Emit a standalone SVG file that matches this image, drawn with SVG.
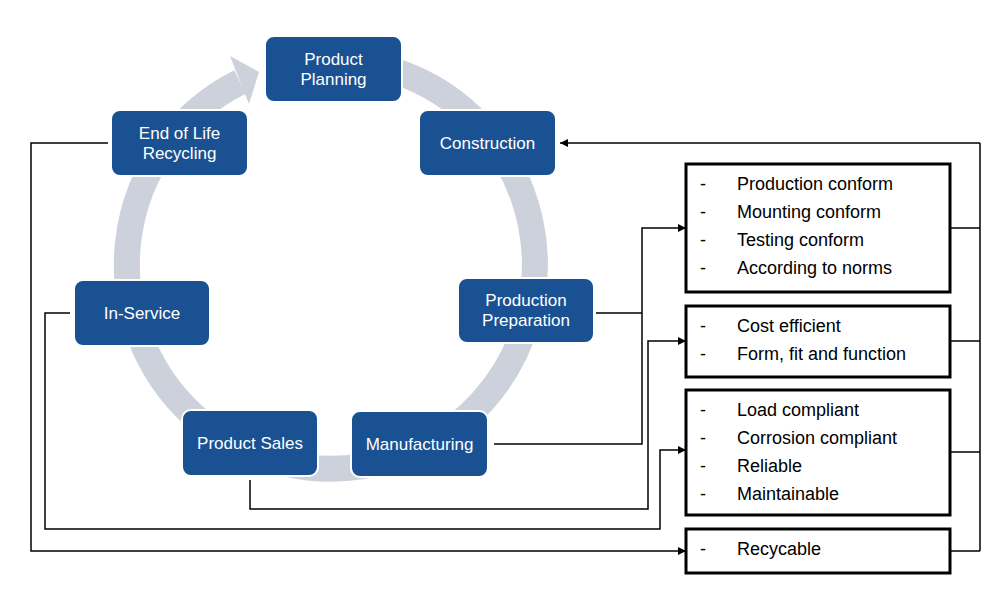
<svg xmlns="http://www.w3.org/2000/svg" width="994" height="599" viewBox="0 0 994 599">
<style>
.n{fill:#1a5192;stroke:#fff;stroke-width:2}
.nt{font-family:"Liberation Sans",Arial,sans-serif;font-size:17px;fill:#fff;text-anchor:middle}
.b{fill:#fff;stroke:#000;stroke-width:3}
.bt{font-family:"Liberation Sans",Arial,sans-serif;font-size:18px;fill:#000}
.c{fill:none;stroke:#000;stroke-width:1.5}
</style>
<defs>
<marker id="a" viewBox="0 0 10 10" refX="10" refY="5" markerWidth="8" markerHeight="8" markerUnits="userSpaceOnUse" orient="auto"><path d="M0,0L10,5L0,10z" fill="#000"/></marker>
</defs>
<rect width="994" height="599" fill="#fff"/>
<g id="ring">
<path d="M300 63 A204 204 0 1 1 240 82" fill="none" stroke="#cdd1dc" stroke-width="26"/>
<polygon points="230,56 259,72 249,104" fill="#cdd1dc"/>
</g>
<g id="connectors">
<path class="c" d="M980 143H560" marker-end="url(#a)"/>
<path class="c" d="M980 143V551M950 228H980M950 341H980M950 452H980M950 551H980"/>
<path class="c" d="M596 313H642M494 444H642V228H686" marker-end="url(#a)"/>
<path class="c" d="M250 480V509H648V341H686" marker-end="url(#a)"/>
<path class="c" d="M70 313H45V529H660V450H686" marker-end="url(#a)"/>
<path class="c" d="M108 143H31V551H686" marker-end="url(#a)"/>
</g>
<g id="planning"><rect class="n" x="265" y="36" width="137" height="66" rx="9"/><text class="nt" x="333.5" y="65">Product</text><text class="nt" x="333.5" y="85">Planning</text></g>
<g id="construction"><rect class="n" x="419" y="110" width="137" height="66" rx="9"/><text class="nt" x="487.5" y="149">Construction</text></g>
<g id="prodprep"><rect class="n" x="458" y="278" width="136" height="65" rx="9"/><text class="nt" x="526" y="306">Production</text><text class="nt" x="526" y="326">Preparation</text></g>
<g id="manufacturing"><rect class="n" x="351" y="411" width="137" height="66" rx="9"/><text class="nt" x="419.5" y="450">Manufacturing</text></g>
<g id="sales"><rect class="n" x="182" y="410" width="136" height="66" rx="9"/><text class="nt" x="250" y="449">Product Sales</text></g>
<g id="inservice"><rect class="n" x="74" y="280" width="136" height="66" rx="9"/><text class="nt" x="142" y="319">In-Service</text></g>
<g id="eol"><rect class="n" x="111" y="110" width="137" height="66" rx="9"/><text class="nt" x="179.5" y="139">End of Life</text><text class="nt" x="179.5" y="159">Recycling</text></g>
<g id="box1"><rect class="b" x="686" y="164" width="264" height="128"/>
<text class="bt" x="700" y="190">-</text><text class="bt" x="737" y="190">Production conform</text>
<text class="bt" x="700" y="218">-</text><text class="bt" x="737" y="218">Mounting conform</text>
<text class="bt" x="700" y="246">-</text><text class="bt" x="737" y="246">Testing conform</text>
<text class="bt" x="700" y="274">-</text><text class="bt" x="737" y="274">According to norms</text></g>
<g id="box2"><rect class="b" x="686" y="306" width="264" height="71"/>
<text class="bt" x="700" y="332">-</text><text class="bt" x="737" y="332">Cost efficient</text>
<text class="bt" x="700" y="360">-</text><text class="bt" x="737" y="360">Form, fit and function</text></g>
<g id="box3"><rect class="b" x="686" y="390" width="264" height="125"/>
<text class="bt" x="700" y="416">-</text><text class="bt" x="737" y="416">Load compliant</text>
<text class="bt" x="700" y="444">-</text><text class="bt" x="737" y="444">Corrosion compliant</text>
<text class="bt" x="700" y="472">-</text><text class="bt" x="737" y="472">Reliable</text>
<text class="bt" x="700" y="500">-</text><text class="bt" x="737" y="500">Maintainable</text></g>
<g id="box4"><rect class="b" x="686" y="529" width="264" height="44"/>
<text class="bt" x="700" y="555">-</text><text class="bt" x="737" y="555">Recycable</text></g>
</svg>
